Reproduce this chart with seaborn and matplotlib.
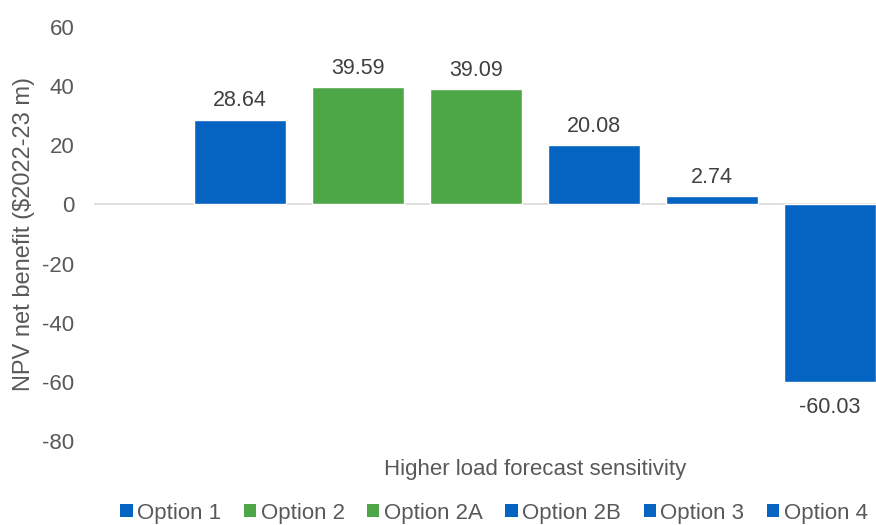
import matplotlib
matplotlib.use("Agg")
import matplotlib.pyplot as plt
from matplotlib.patches import Patch
import seaborn as sns
import pandas as pd

# Chart data
category = "Higher load forecast sensitivity"
options = ["Option 1", "Option 2", "Option 2A", "Option 2B", "Option 3", "Option 4"]
npv_values = [28.64, 39.59, 39.09, 20.08, 2.74, -60.03]
y_ticks = [60, 40, 20, 0, -20, -40, -60, -80]

BLUE = "#0563C1"
GREEN = "#4EA746"
colors = [BLUE, GREEN, GREEN, BLUE, BLUE, BLUE]
palette = dict(zip(options, colors))

df = pd.DataFrame({"scenario": [category] * len(options),
                   "option": options,
                   "npv": npv_values})

sns.set_theme(style="white")
plt.rcParams["font.family"] = ["Liberation Sans", "DejaVu Sans"]
TXT = "#595959"
FS = 16

W, H = 876, 525
fig = plt.figure(figsize=(W / 100, H / 100), dpi=100)
ax = fig.add_axes([94 / W, (H - 441) / H, 882 / W, (441 - 27) / H])

sns.barplot(data=df, x="scenario", y="npv", hue="option", hue_order=options,
            palette=palette, width=0.803, gap=0.22, saturation=1,
            legend=False, ax=ax)

# value labels: above positive bars, below negative ones
for cont in ax.containers:
    val = cont.datavalues[0]
    ax.bar_label(cont, fmt="%.2f", padding=6 if val >= 0 else 11,
                 fontsize=15.5, color="#404040")

ax.set_xlim(-0.5, 0.5)
ax.set_ylim(-80, 60)
ax.set_yticks(y_ticks)
ax.set_yticklabels([str(t) for t in y_ticks])
ax.tick_params(axis="y", length=0, pad=14, labelsize=FS, labelcolor=TXT)
ax.set_xticks([])
ax.axhline(0, color="#D9D9D9", lw=1.2, zorder=0)
for s in ax.spines.values():
    s.set_visible(False)

ax.set_ylabel("NPV net benefit ($2022-23 m)", fontsize=17, color=TXT, labelpad=5)
ax.set_xlabel(category, fontsize=FS, color=TXT, labelpad=13)

handles = [Patch(facecolor=palette[o], edgecolor="none", label=o) for o in options]
fig.legend(handles=handles, loc="center", bbox_to_anchor=(494 / W, 1 - 513 / H),
           ncol=6, frameon=False, fontsize=FS, labelcolor=TXT,
           handlelength=0.55, handleheight=0.55, handletextpad=0.2,
           columnspacing=1.02, borderaxespad=0, borderpad=0)

fig.savefig("out.png", dpi=100)
